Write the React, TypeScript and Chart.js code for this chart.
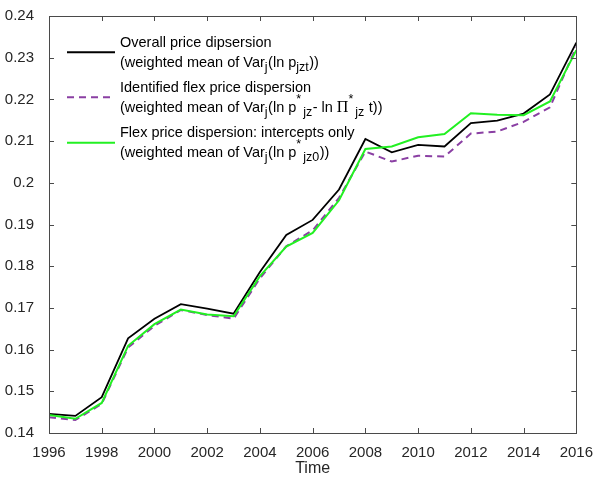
import React, { useEffect, useRef } from 'react';
import { Chart, registerables } from 'chart.js';

Chart.register(...registerables);

// ---- data ----
const years = [1996, 1997, 1998, 1999, 2000, 2001, 2002, 2003, 2004, 2005, 2006, 2007, 2008, 2009, 2010, 2011, 2012, 2013, 2014, 2015, 2016];
const overallDispersion = [0.1446, 0.1441, 0.1486, 0.1627, 0.1674, 0.1709, 0.1698, 0.1686, 0.1786, 0.1875, 0.1911, 0.1984, 0.2105, 0.2073, 0.2091, 0.2087, 0.2143, 0.2149, 0.2166, 0.2212, 0.2336];
const identifiedFlexDispersion = [0.1438, 0.1431, 0.1470, 0.1605, 0.1657, 0.1695, 0.1683, 0.1674, 0.1771, 0.1848, 0.1886, 0.1964, 0.2075, 0.2051, 0.2065, 0.2063, 0.2118, 0.2123, 0.2146, 0.2181, 0.2326];
const interceptsOnlyDispersion = [0.1443, 0.1434, 0.1472, 0.1609, 0.1661, 0.1696, 0.1684, 0.1680, 0.1776, 0.1847, 0.1880, 0.1958, 0.2081, 0.2087, 0.2109, 0.2117, 0.2167, 0.2163, 0.2162, 0.2195, 0.2318];

const yMin = 0.14;
const yMax = 0.24;
const yStep = 0.01;
const xMin = 1996;
const xMax = 2016;
const xStep = 2;
const xTitle = 'Time';

const BLACK = '#000000';
const PURPLE = '#8A3FA3';
const GREEN = '#22F022';
const AXIS = '#4a4a4a';
const TEXT = '#262626';
const SANS = "'Liberation Sans', Arial, sans-serif";
const SERIF = "'Liberation Serif', 'Times New Roman', serif";

type Seg = { t: string; m?: 'sub' | 'sup'; serif?: boolean };
const legendItems: { color: string; dash: number[]; lines: Seg[][] }[] = [
  {
    color: BLACK,
    dash: [],
    lines: [
      [{ t: 'Overall price dipsersion' }],
      [{ t: '(weighted mean of Var' }, { t: 'j', m: 'sub' }, { t: '(ln p' }, { t: 'jzt', m: 'sub' }, { t: '))' }],
    ],
  },
  {
    color: PURPLE,
    dash: [7, 5],
    lines: [
      [{ t: 'Identified flex price dispersion' }],
      [
        { t: '(weighted mean of Var' }, { t: 'j', m: 'sub' }, { t: '(ln p' }, { t: '*', m: 'sup' }, { t: 'jz', m: 'sub' },
        { t: '- ln ' }, { t: 'Π', serif: true }, { t: '*', m: 'sup' }, { t: 'jz', m: 'sub' }, { t: ' t))' },
      ],
    ],
  },
  {
    color: GREEN,
    dash: [],
    lines: [
      [{ t: 'Flex price dispersion: intercepts only' }],
      [{ t: '(weighted mean of Var' }, { t: 'j', m: 'sub' }, { t: '(ln p' }, { t: '*', m: 'sup' }, { t: 'jz0', m: 'sub' }, { t: '))' }],
    ],
  },
];

const framePlugin = {
  id: 'matlabFrame',
  afterDatasetsDraw(chart: any) {
    const { ctx, chartArea, scales } = chart;
    const { left, right, top, bottom } = chartArea;
    ctx.save();
    ctx.strokeStyle = AXIS;
    ctx.lineWidth = 1;
    ctx.setLineDash([]);
    ctx.strokeRect(Math.round(left) + 0.5, Math.round(top) + 0.5, Math.round(right - left), Math.round(bottom - top));
    const tl = 5;
    ctx.beginPath();
    scales.y.ticks.forEach((t: any) => {
      const y = Math.round(scales.y.getPixelForValue(t.value)) + 0.5;
      ctx.moveTo(left, y); ctx.lineTo(left + tl, y);
      ctx.moveTo(right, y); ctx.lineTo(right - tl, y);
    });
    scales.x.ticks.forEach((t: any) => {
      const x = Math.round(scales.x.getPixelForValue(t.value)) + 0.5;
      ctx.moveTo(x, bottom); ctx.lineTo(x, bottom - tl);
      ctx.moveTo(x, top); ctx.lineTo(x, top + tl);
    });
    ctx.stroke();

    // legend
    const lineX0 = 67, lineX1 = 115, textX = 120;
    const base1 = [46.7, 91.7, 137.3];
    legendItems.forEach((item, i) => {
      const b1 = base1[i];
      const b2 = b1 + 19.8;
      ctx.strokeStyle = item.color;
      ctx.lineWidth = 2;
      ctx.setLineDash(item.dash);
      ctx.beginPath();
      const ly = b1 + 5.5;
      ctx.moveTo(lineX0, ly); ctx.lineTo(lineX1, ly);
      ctx.stroke();
      ctx.setLineDash([]);
      ctx.fillStyle = '#000';
      ctx.textBaseline = 'alphabetic';
      ctx.textAlign = 'left';
      [b1, b2].forEach((b, li) => {
        let x = textX;
        item.lines[li].forEach((s) => {
          const size = s.m ? 12.5 : s.serif ? 16 : 14.5;
          ctx.font = `${size}px ${s.serif ? SERIF : SANS}`;
          const dy = s.m === 'sub' ? 4 : s.m === 'sup' ? -9 : 0;
          ctx.fillText(s.t, x, b + dy);
          x += ctx.measureText(s.t).width + (s.m === 'sup' ? 2 : s.m === 'sub' ? 0.5 : 0);
        });
      });
    });
    ctx.restore();
  },
};

export default function App() {
  const ref = useRef<HTMLCanvasElement>(null);
  useEffect(() => {
    document.body.style.margin = '0';
    const canvas = ref.current!;
    const mk = (arr: number[]) => years.map((x, i) => ({ x, y: arr[i] }));
    const chart = new Chart(canvas, {
      type: 'line',
      data: {
        datasets: [
          { label: 'Overall price dipsersion', data: mk(overallDispersion), borderColor: BLACK, borderWidth: 1.8, pointRadius: 0, order: 2 },
          { label: 'Identified flex price dispersion', data: mk(identifiedFlexDispersion), borderColor: PURPLE, borderWidth: 2, borderDash: [7, 5], pointRadius: 0, order: 1 },
          { label: 'Flex price dispersion: intercepts only', data: mk(interceptsOnlyDispersion), borderColor: GREEN, borderWidth: 2, pointRadius: 0, order: 0 },
        ],
      },
      options: {
        animation: false,
        responsive: false,
        devicePixelRatio: 1,
        layout: { padding: { top: 15, right: 18, left: 0, bottom: 0 } },
        plugins: { legend: { display: false }, tooltip: { enabled: false } },
        elements: { line: { tension: 0 } },
        scales: {
          x: {
            type: 'linear',
            min: xMin,
            max: xMax,
            grid: { display: false },
            border: { display: false },
            ticks: { stepSize: xStep, padding: 3, color: TEXT, font: { family: SANS, size: 15 }, maxRotation: 0, callback: (v: any) => String(v) },
            title: { display: true, text: xTitle, color: TEXT, font: { family: SANS, size: 16 }, padding: { top: 0, bottom: 5 } },
            afterFit: (s: any) => { s.height = 50; },
          },
          y: {
            type: 'linear',
            min: yMin,
            max: yMax,
            grid: { display: false },
            border: { display: false },
            ticks: { stepSize: yStep, padding: 7, color: TEXT, font: { family: SANS, size: 15 }, callback: (v: any) => String(parseFloat(Number(v).toFixed(2))) },
            afterFit: (s: any) => { s.width = 49; },
          },
        },
      },
      plugins: [framePlugin],
    });
    return () => chart.destroy();
  }, []);
  return (
    <div style={{ width: 596, height: 483 }}>
      <canvas ref={ref} width={596} height={483} style={{ display: 'block' }} />
    </div>
  );
}
